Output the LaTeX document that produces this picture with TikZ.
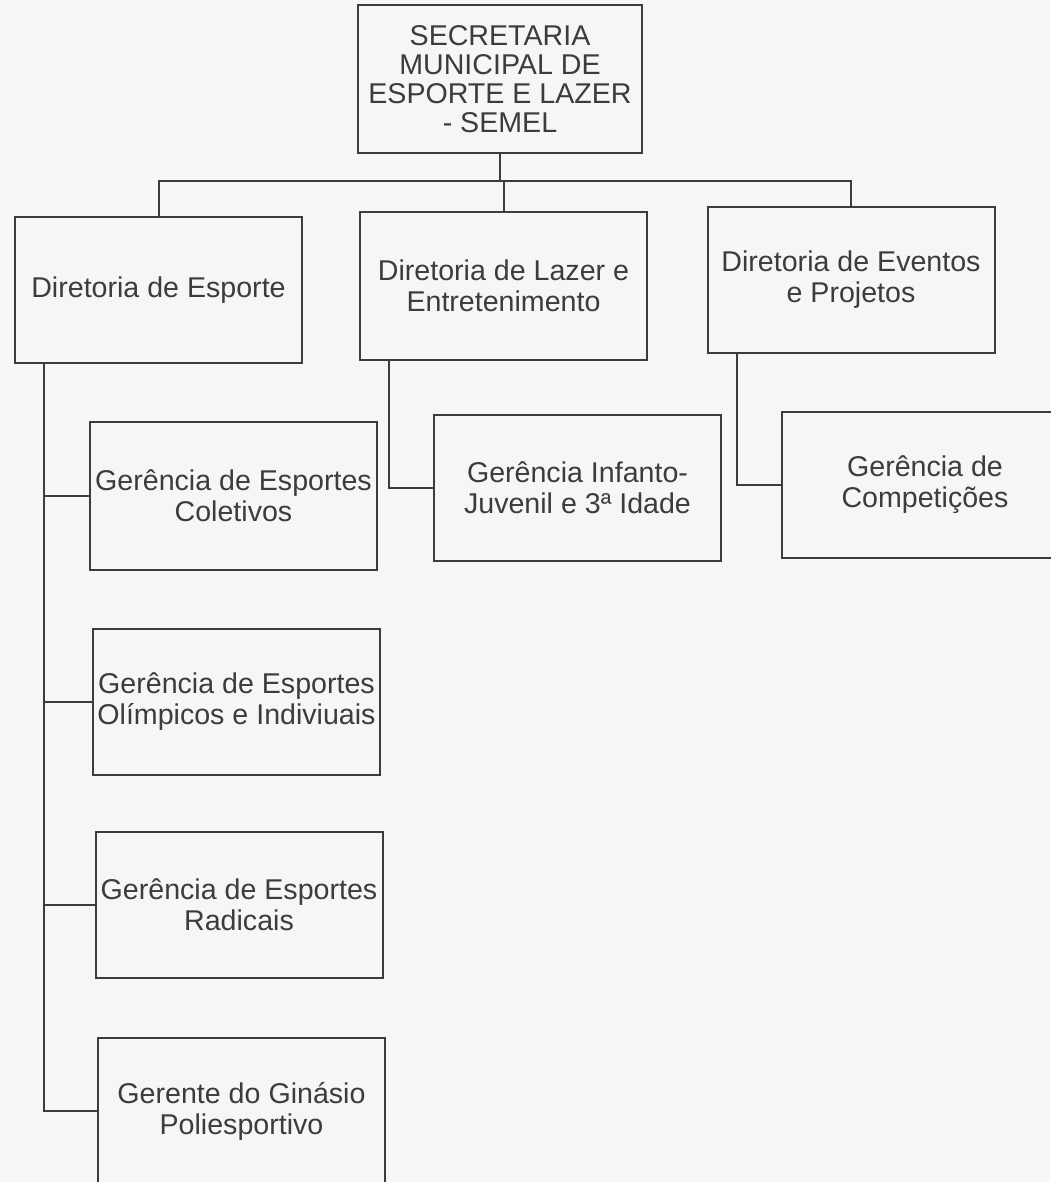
\documentclass[tikz,border=0pt]{standalone}
\usepackage{fontspec}
\setmainfont{Liberation Sans}
\definecolor{ink}{HTML}{3C3C3C}
\definecolor{paper}{HTML}{F6F6F6}
\begin{document}
\begin{tikzpicture}[x=0.5pt,y=-0.5pt,
  unit/.style={draw=ink,line width=1pt,text=ink,align=center,inner sep=1pt,
    minimum width=143.5pt,minimum height=73pt,font=\fontsize{14.3}{15.5}\selectfont},
  link/.style={draw=ink,line width=1pt}]
\fill[paper] (0,0) rectangle (1050,1182);
\useasboundingbox (0,0) rectangle (1050,1182);
% top level
\node[unit,minimum width=142pt,minimum height=74pt,font=\fontsize{14.3}{14.5}\selectfont] (sec) at (500,79) {SECRETARIA\\MUNICIPAL DE\\ESPORTE E LAZER\\- SEMEL};
% diretorias
\node[unit] (dEsp) at (158.5,290) {Diretoria de Esporte};
\node[unit,minimum height=74pt] (dLaz) at (503.5,286) {Diretoria de Lazer e\\Entretenimento};
\node[unit] (dEve) at (851,280) {Diretoria de Eventos\\e Projetos};
% gerencias
\node[unit,minimum height=74pt] (gCol) at (233.5,496) {Gerência de Esportes\\Coletivos};
\node[unit] (gOli) at (236.5,701.5) {Gerência de Esportes\\Olímpicos e Indiviuais};
\node[unit] (gRad) at (239,905) {Gerência de Esportes\\Radicais};
\node[unit] (gGin) at (241.5,1111) {Gerente do Ginásio\\Poliesportivo};
\node[unit] (gInf) at (577.5,488) {Gerência Infanto-\\Juvenil e 3ª Idade};
\node[unit] (gCom) at (925,485) {Gerência de\\Competições};
% connectors
\coordinate (hub) at (502,181);
\draw[link] (sec.south) -- (sec.south |- hub);
\draw[link] (dEsp.north) |- (hub) -| (dEve.north);
\draw[link] (dLaz.north) -- (dLaz.north |- hub);
\coordinate (espTop) at ([xshift=15pt]dEsp.south west);
\draw[link] (espTop) |- (gGin.west);
\foreach \g in {gCol,gOli,gRad}
  \draw[link] (\g.west) -- (\g.west -| espTop);
\draw[link] ([xshift=15pt]dLaz.south west) |- (gInf.west);
\draw[link] ([xshift=15pt]dEve.south west) |- (gCom.west);
\end{tikzpicture}
\end{document}
